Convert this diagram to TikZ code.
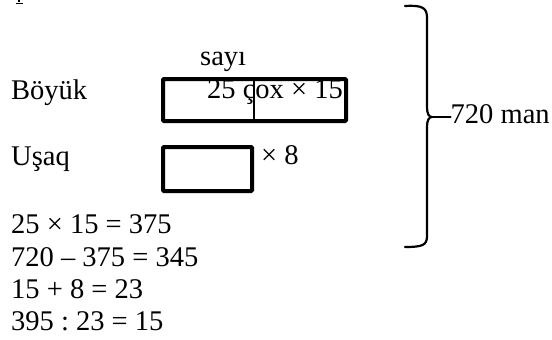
\documentclass[tikz,border=0pt]{standalone}
\usepackage{fontspec}
\setmainfont{Liberation Serif}
\frenchspacing
\begin{document}
\begin{tikzpicture}[x=1pt,y=-1pt,
  txt/.style={anchor=base west,inner sep=0pt,font=\fontsize{28.5}{32}\selectfont},
  thickbox/.style={draw,line width=4pt,rounded corners=1pt},
  thinline/.style={line width=1.4pt},
  bracel/.style={line width=2.2pt,line cap=round,line join=round}]
\useasboundingbox (0,0) rectangle (552,340);
% cut-off glyph at top edge
\draw[line width=2.4pt] (19,-1) -- (19,2);
\draw[line width=1pt] (15.5,3) -- (22.5,3);
% labels
\node[txt] (sayi) at (200,65) {sayı};
\node[txt] (boyuk) at (11,99.5) {Böyük};
\node[txt] (usaq) at (11,165.5) {Uşaq};
% boxes
\draw[thickbox] (163,79) rectangle (346,121);
\coordinate (dtop) at (254,79);
\coordinate (dbot) at (254,121);
\draw[thinline] (dtop) -- (dbot);
\node[txt] (big) at (207,98) {25 çox × 15};
\draw[thickbox] (163,147) rectangle (252,191);
\node[txt] (x8) at (261,164) {× 8};
% brace
\coordinate (cusp) at (432,117);
\draw[bracel] (405,6) .. controls (423,5) and (427,8) .. (427,18)
  -- (427,107) .. controls (427,114) and (429,117) .. (cusp)
  .. controls (429,117) and (427,120) .. (427,127)
  -- (427,236) .. controls (427,245) and (423,247) .. (405,247);
\node[txt] (total) at (450.5,123.5) {720 man};
\draw[bracel] (cusp) -- (total.west |- cusp);
% equations
\node[txt] (e1) at (11,233) {25 × 15 = 375};
\node[txt] (e2) at (11,266) {720 – 375 = 345};
\node[txt] (e3) at (11,298) {15 + 8 = 23};
\node[txt] (e4) at (11,330) {395 : 23 = 15};
\end{tikzpicture}
\end{document}
